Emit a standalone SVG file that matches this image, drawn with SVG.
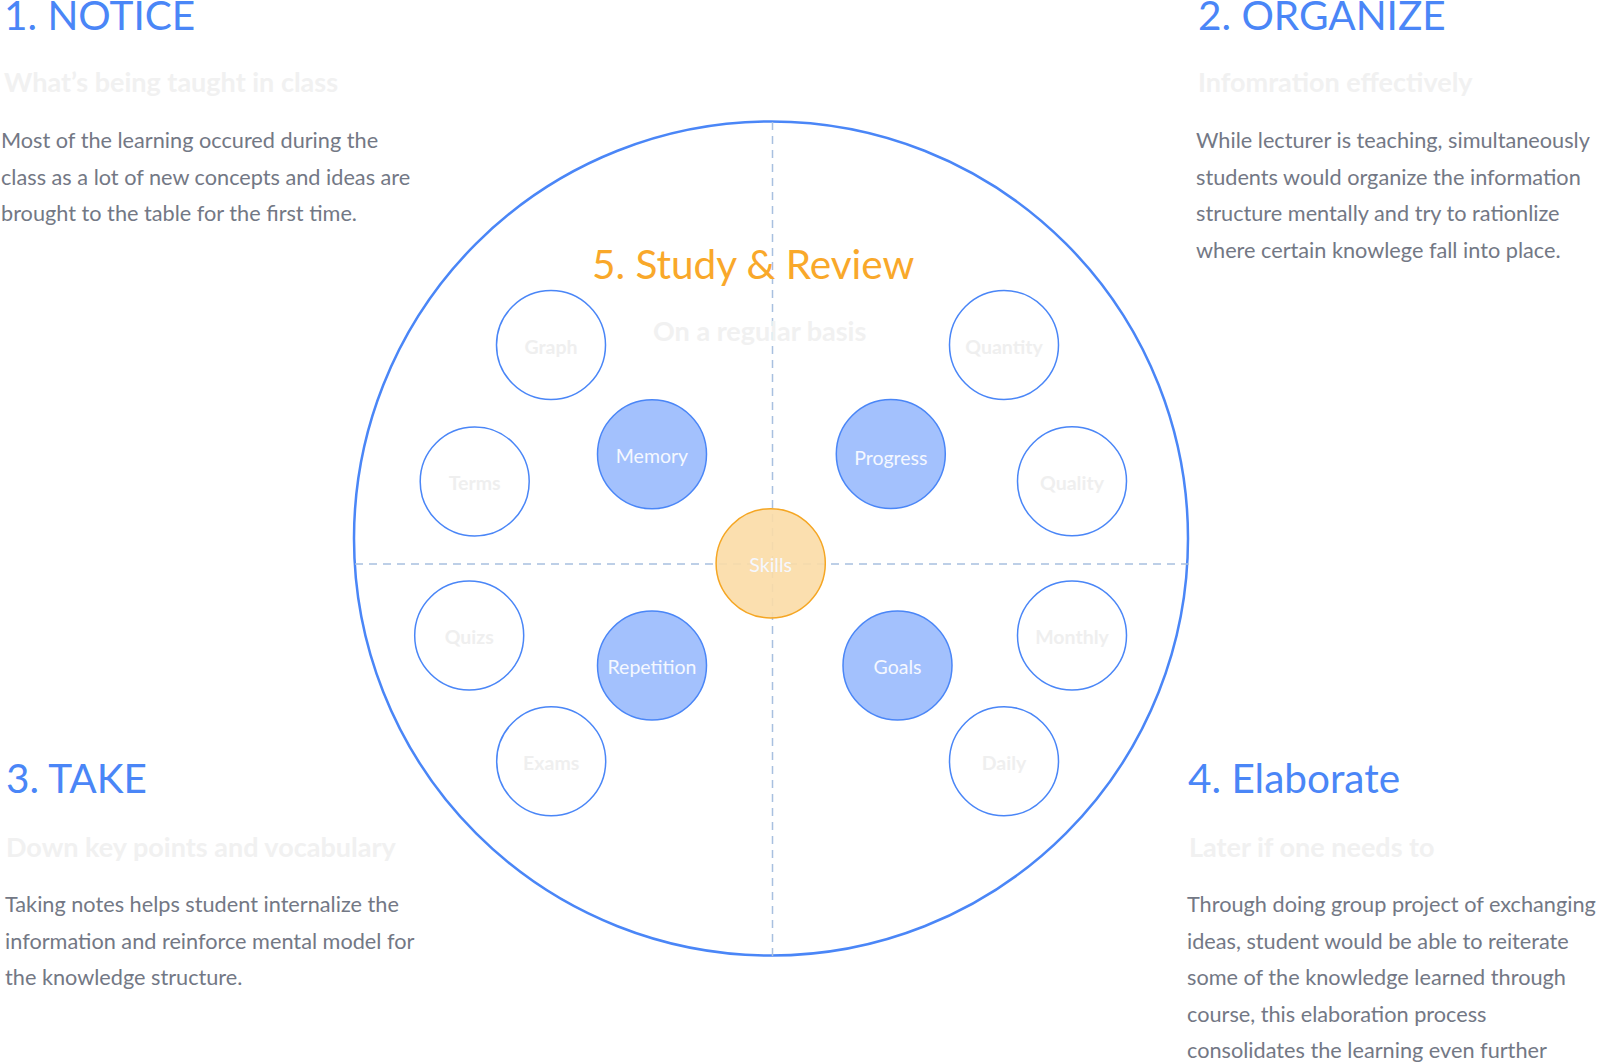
<svg xmlns="http://www.w3.org/2000/svg" width="1600" height="1063" viewBox="0 0 1600 1063">
  <style>
    text { font-family: Lato, "Noto Sans", "Liberation Sans", sans-serif; }
    .title { font-size: 40.5px; fill: #4a86f7; }
    .title-o { font-size: 40.5px; fill: #f9a82a; }
    .sub { font-size: 27px; font-weight: bold; fill: #f1f1f1; }
    .body { font-size: 21.7px; fill: #737885; }
    .ring { fill: #ffffff; stroke: #4a86f7; stroke-width: 1.5; }
    .solid { fill: #a3c1fd; stroke: #4a86f7; stroke-width: 1.5; }
    .core { fill: #fbdba6; stroke: #f5a623; stroke-width: 1.5; }
    .lbl { font-size: 19.5px; text-anchor: middle; dominant-baseline: central; }
    .lbl-faint { fill: #efefef; font-weight: bold; }
    .lbl-light { fill: #f5f8ff; }
    .axis { stroke: #a8c0e0; stroke-width: 1.5; stroke-dasharray: 8 6; fill: none; }
  </style>

  <!-- section texts -->
  <g id="notice">
    <text class="title" x="4" y="30">1. NOTICE</text>
    <text class="sub" x="4" y="92">What’s being taught in class</text>
    <text class="body" x="1" y="148">Most of the learning occured during the</text>
    <text class="body" x="1" y="184.5">class as a lot of new concepts and ideas are</text>
    <text class="body" x="1" y="221">brought to the table for the first time.</text>
  </g>
  <g id="organize">
    <text class="title" x="1198" y="30">2. ORGANIZE</text>
    <text class="sub" x="1198" y="92">Infomration effectively</text>
    <text class="body" x="1196" y="148">While lecturer is teaching, simultaneously</text>
    <text class="body" x="1196" y="184.5">students would organize the information</text>
    <text class="body" x="1196" y="221">structure mentally and try to rationlize</text>
    <text class="body" x="1196" y="257.5">where certain knowlege fall into place.</text>
  </g>
  <g id="take">
    <text class="title" x="6" y="793">3. TAKE</text>
    <text class="sub" x="6" y="857">Down key points and vocabulary</text>
    <text class="body" x="5" y="912">Taking notes helps student internalize the</text>
    <text class="body" x="5" y="948.5">information and reinforce mental model for</text>
    <text class="body" x="5" y="985">the knowledge structure.</text>
  </g>
  <g id="elaborate">
    <text class="title" x="1188" y="793">4. Elaborate</text>
    <text class="sub" x="1189" y="857">Later if one needs to</text>
    <text class="body" x="1187" y="912">Through doing group project of exchanging</text>
    <text class="body" x="1187" y="948.5">ideas, student would be able to reiterate</text>
    <text class="body" x="1187" y="985">some of the knowledge learned through</text>
    <text class="body" x="1187" y="1021.5">course, this elaboration process</text>
    <text class="body" x="1187" y="1058">consolidates the learning even further</text>
  </g>

  <!-- outer ring and quadrant axes -->
  <g id="connectors">
    <circle cx="771" cy="538.5" r="417" fill="none" stroke="#4a86f7" stroke-width="2.5"/>
    <line class="axis" x1="772.5" y1="122" x2="772.5" y2="956"/>
    <line class="axis" x1="355" y1="564" x2="1190" y2="564"/>
  </g>

  <g id="study">
    <text class="title-o" x="592" y="279">5. Study &amp; Review</text>
    <text class="sub" x="653" y="341">On a regular basis</text>
  </g>

  <!-- outer topic nodes -->
  <g id="graph"><circle class="ring" cx="551" cy="345" r="54.5"/><text class="lbl lbl-faint" x="551" y="346">Graph</text></g>
  <g id="terms"><circle class="ring" cx="474.7" cy="481.5" r="54.5"/><text class="lbl lbl-faint" x="474.7" y="482.5">Terms</text></g>
  <g id="quantity"><circle class="ring" cx="1004" cy="345" r="54.5"/><text class="lbl lbl-faint" x="1004" y="346">Quantity</text></g>
  <g id="quality"><circle class="ring" cx="1072" cy="481.3" r="54.5"/><text class="lbl lbl-faint" x="1072" y="482.5">Quality</text></g>
  <g id="quizs"><circle class="ring" cx="469.2" cy="635.5" r="54.5"/><text class="lbl lbl-faint" x="469.2" y="636.5">Quizs</text></g>
  <g id="exams"><circle class="ring" cx="551.2" cy="761.2" r="54.5"/><text class="lbl lbl-faint" x="551.2" y="762">Exams</text></g>
  <g id="monthly"><circle class="ring" cx="1072" cy="635.5" r="54.5"/><text class="lbl lbl-faint" x="1072" y="636.5">Monthly</text></g>
  <g id="daily"><circle class="ring" cx="1004" cy="761.2" r="54.5"/><text class="lbl lbl-faint" x="1004" y="762">Daily</text></g>

  <!-- inner nodes -->
  <g id="memory"><circle class="solid" cx="652" cy="454.3" r="54.5"/><text class="lbl lbl-light" x="652" y="455">Memory</text></g>
  <g id="progress"><circle class="solid" cx="890.8" cy="454" r="54.5"/><text class="lbl lbl-light" x="890.8" y="457">Progress</text></g>
  <g id="repetition"><circle class="solid" cx="652" cy="665.5" r="54.5"/><text class="lbl lbl-light" x="652" y="666">Repetition</text></g>
  <g id="goals"><circle class="solid" cx="897.5" cy="665.5" r="54.5"/><text class="lbl lbl-light" x="897.5" y="666">Goals</text></g>

  <!-- centre node, drawn translucent so the axes show through -->
  <g id="skills"><circle class="core" cx="770.7" cy="563.3" r="54.6" fill-opacity="0.9"/><text class="lbl lbl-light" x="770.7" y="564">Skills</text></g>
</svg>
